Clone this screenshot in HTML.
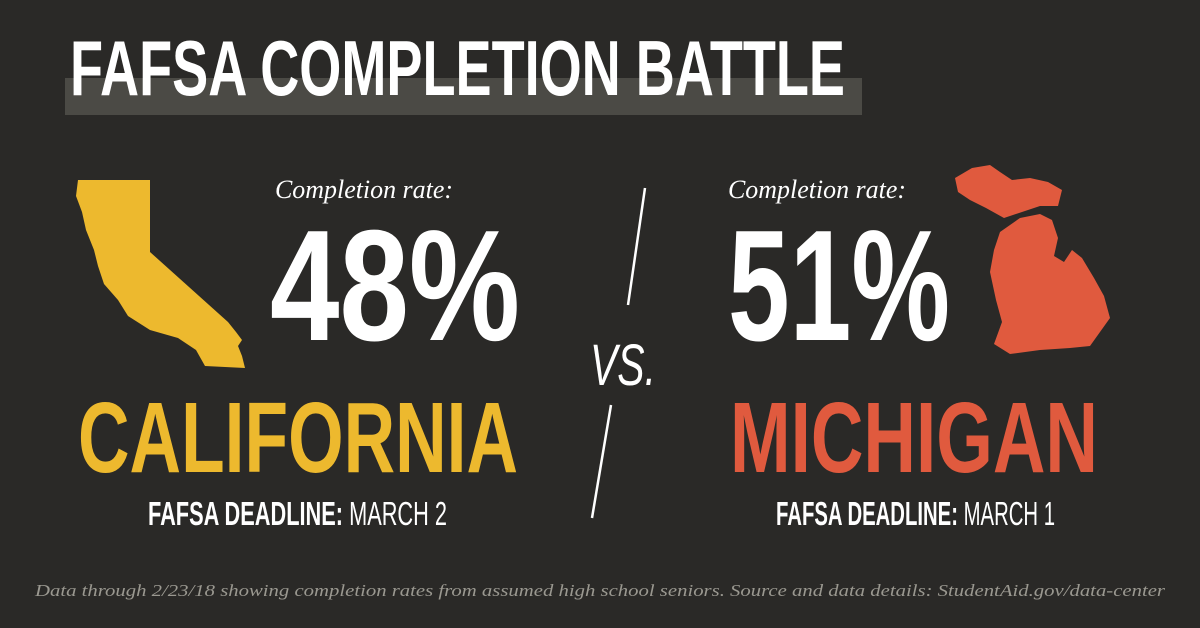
<!DOCTYPE html>
<html><head><meta charset="utf-8"><style>
html,body{margin:0;padding:0;background:#2a2927;}
svg{display:block}
</style></head><body>
<svg width="1200" height="628" viewBox="0 0 1200 628">
<rect x="0" y="0" width="1200" height="628" fill="#2a2927"/>
<rect x="65" y="78" width="797" height="37" fill="#4b4a45"/>
<text x="70" y="95" font-family="Liberation Sans, sans-serif" font-weight="bold" font-size="78" fill="#fff" textLength="775" lengthAdjust="spacingAndGlyphs">FAFSA COMPLETION BATTLE</text>

<path d="M78,180 L150,180 L150,252 L228,322 L236,332 L242,340 L238,346 L242,356 L245,368 L205,366 L196,350 L178,338 L150,330 L128,316 L118,300 L104,284 L98,266 L94,250 L86,230 L82,212 L76,196 Z" fill="#edb92e"/>
<path d="M955,178 L972,168 L990,165 L1000,172 L1012,180 L1030,178 L1048,182 L1062,190 L1058,206 L1040,206 L1022,212 L1004,218 L986,208 L970,200 L958,192 Z M1000,232 L1020,218 L1040,214 L1052,220 L1058,238 L1054,256 L1064,262 L1072,250 L1082,258 L1094,278 L1104,296 L1110,318 L1100,332 L1090,346 L1070,348 L1040,350 L1010,354 L994,344 L1002,322 L996,300 L990,272 L994,250 Z" fill="#e05a3e"/>

<text id="rateL" x="275" y="198" font-family="Liberation Serif, serif" font-style="italic" font-size="26" fill="#fff" textLength="178" lengthAdjust="spacingAndGlyphs">Completion rate:</text>
<text id="valL" x="270" y="340" font-family="Liberation Sans, sans-serif" font-weight="bold" font-size="158" fill="#fff" textLength="250" lengthAdjust="spacingAndGlyphs"></text>
<text x="78" y="472" font-family="Liberation Sans, sans-serif" font-weight="bold" font-size="100" fill="#edb92e" textLength="440" lengthAdjust="spacingAndGlyphs">CALIFORNIA</text>
<text x="148" y="525" font-family="Liberation Sans, sans-serif" font-size="33" fill="#fff" textLength="299" lengthAdjust="spacingAndGlyphs"><tspan font-weight="bold">FAFSA DEADLINE:</tspan> MARCH 2</text>

<line x1="645" y1="188" x2="628" y2="305" stroke="#fff" stroke-width="2.5"/>
<text x="590" y="385" font-family="Liberation Sans, sans-serif" font-style="italic" font-size="58" fill="#fff" textLength="66" lengthAdjust="spacingAndGlyphs">VS.</text>
<line x1="611" y1="405" x2="592" y2="518" stroke="#fff" stroke-width="2.5"/>

<text x="728" y="198" font-family="Liberation Serif, serif" font-style="italic" font-size="26" fill="#fff" textLength="178" lengthAdjust="spacingAndGlyphs">Completion rate:</text>
<text id="valR" x="728" y="340" font-family="Liberation Sans, sans-serif" font-weight="bold" font-size="158" fill="#fff" textLength="222" lengthAdjust="spacingAndGlyphs"></text>
<text x="730" y="472" font-family="Liberation Sans, sans-serif" font-weight="bold" font-size="100" fill="#e05a3e" textLength="368" lengthAdjust="spacingAndGlyphs">MICHIGAN</text>
<text x="776" y="525" font-family="Liberation Sans, sans-serif" font-size="33" fill="#fff" textLength="279" lengthAdjust="spacingAndGlyphs"><tspan font-weight="bold">FAFSA DEADLINE:</tspan> MARCH 1</text>

<text x="35" y="596" font-family="Liberation Serif, serif" font-style="italic" font-size="17" fill="#9a9890" textLength="1130" lengthAdjust="spacingAndGlyphs">Data through 2/23/18 showing completion rates from assumed high school seniors. Source and data details: StudentAid.gov/data-center</text>
</svg>
<script>
const states = ["California", "Michigan"];
const rates = [48, 51];
document.getElementById('valL').textContent = rates[0] + '%';
document.getElementById('valR').textContent = rates[1] + '%';
</script>
</body></html>
